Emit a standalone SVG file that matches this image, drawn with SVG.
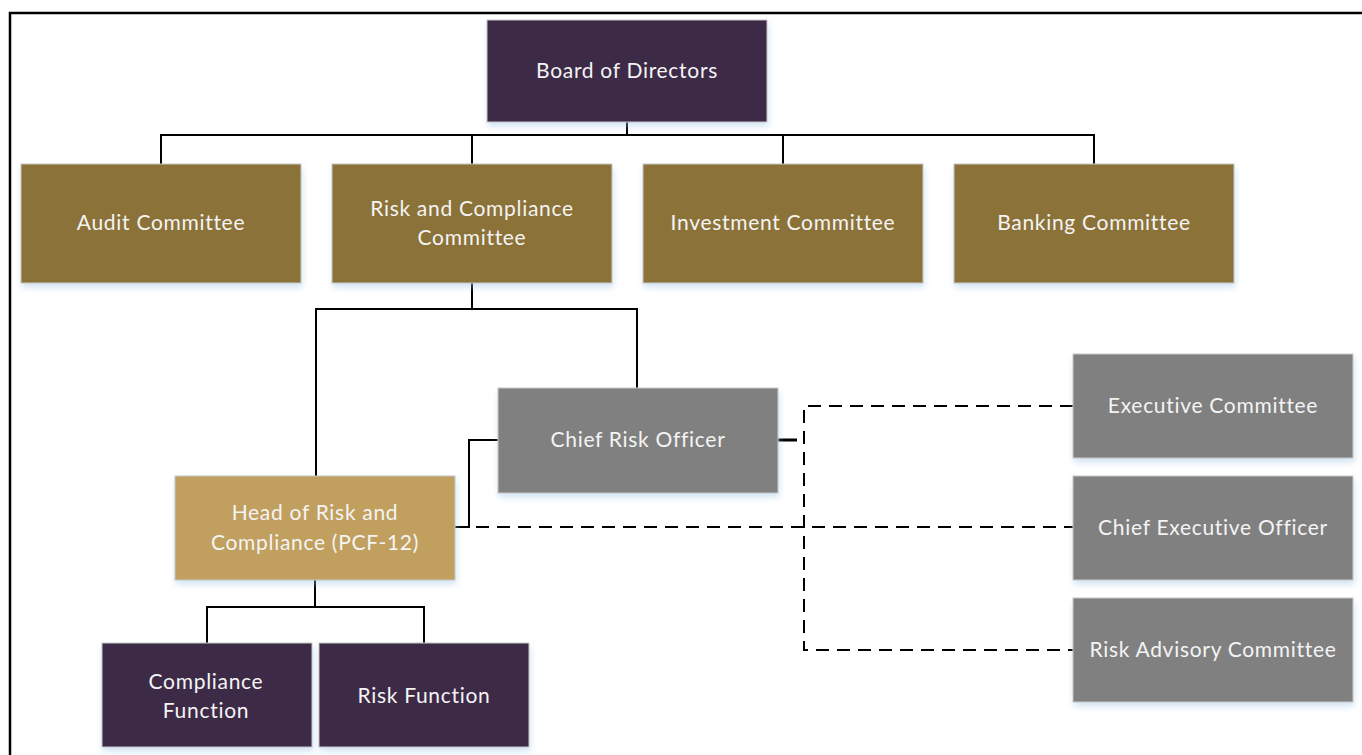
<svg xmlns="http://www.w3.org/2000/svg" width="1362" height="755" viewBox="0 0 1362 755">
<style>
.box{stroke:#c8c8c8;stroke-width:1;filter:url(#sh)}
.purple{fill:#3d2b47}
.olive{fill:#8b7239}
.tan{fill:#c19f5f}
.gray{fill:#808080}
text{font-family:Lato,"Open Sans","Liberation Sans",sans-serif;font-size:21px;fill:#f4f4f4;text-anchor:middle;letter-spacing:0.7px}
.solid{fill:none;stroke:#000;stroke-width:2}
.dash{fill:none;stroke:#000;stroke-width:2;stroke-dasharray:13,8}
</style>
<defs>
<filter id="sh" x="-10%" y="-10%" width="130%" height="140%">
<feDropShadow dx="1" dy="4" stdDeviation="3" flood-color="#9dc3e6" flood-opacity="0.45"/>
</filter>
</defs>
<rect width="1362" height="755" fill="#fff"/>
<path d="M10,755 V13 H1362" fill="none" stroke="#000" stroke-width="2.5"/>
<g id="connectors">
<path class="solid" d="M627,122 V135 M161,164 V135 H1094 V164 M472,135 V164 M783,135 V164"/>
<path class="solid" d="M472,283 V309 M316,476 V309 H637 V388"/>
<path class="solid" d="M498,440 H469 V527 H455"/>
<path class="solid" d="M315,580 V607 M207,643 V607 H424 V643"/>
<path d="M778,440 H797" fill="none" stroke="#000" stroke-width="3"/>
<path class="dash" d="M455,527 H1073"/>
<path class="dash" d="M1073,406 H804 V650 H1073"/>
</g>
<g id="board"><rect class="box purple" x="487" y="20" width="280" height="102"/><text x="627" y="78">Board of Directors</text></g>
<g id="audit"><rect class="box olive" x="21" y="164" width="280" height="119"/><text x="161" y="230">Audit Committee</text></g>
<g id="riskcomp"><rect class="box olive" x="332" y="164" width="280" height="119"/><text x="472" y="216">Risk and Compliance</text><text x="472" y="245">Committee</text></g>
<g id="investment"><rect class="box olive" x="643" y="164" width="280" height="119"/><text x="783" y="230">Investment Committee</text></g>
<g id="banking"><rect class="box olive" x="954" y="164" width="280" height="119"/><text x="1094" y="230">Banking Committee</text></g>
<g id="cro"><rect class="box gray" x="498" y="388" width="280" height="105"/><text x="638" y="447">Chief Risk Officer</text></g>
<g id="head"><rect class="box tan" x="175" y="476" width="280" height="104"/><text x="315" y="520">Head of Risk and</text><text x="315" y="550">Compliance (PCF-12)</text></g>
<g id="exco"><rect class="box gray" x="1073" y="354" width="280" height="104"/><text x="1213" y="413">Executive Committee</text></g>
<g id="ceo"><rect class="box gray" x="1073" y="476" width="280" height="104"/><text x="1213" y="535">Chief Executive Officer</text></g>
<g id="rac"><rect class="box gray" x="1073" y="598" width="280" height="104"/><text x="1213" y="657">Risk Advisory Committee</text></g>
<g id="compliance"><rect class="box purple" x="102" y="643" width="210" height="104"/><text x="206" y="689">Compliance</text><text x="206" y="718">Function</text></g>
<g id="riskfunc"><rect class="box purple" x="319" y="643" width="210" height="104"/><text x="424" y="703">Risk Function</text></g>
</svg>
